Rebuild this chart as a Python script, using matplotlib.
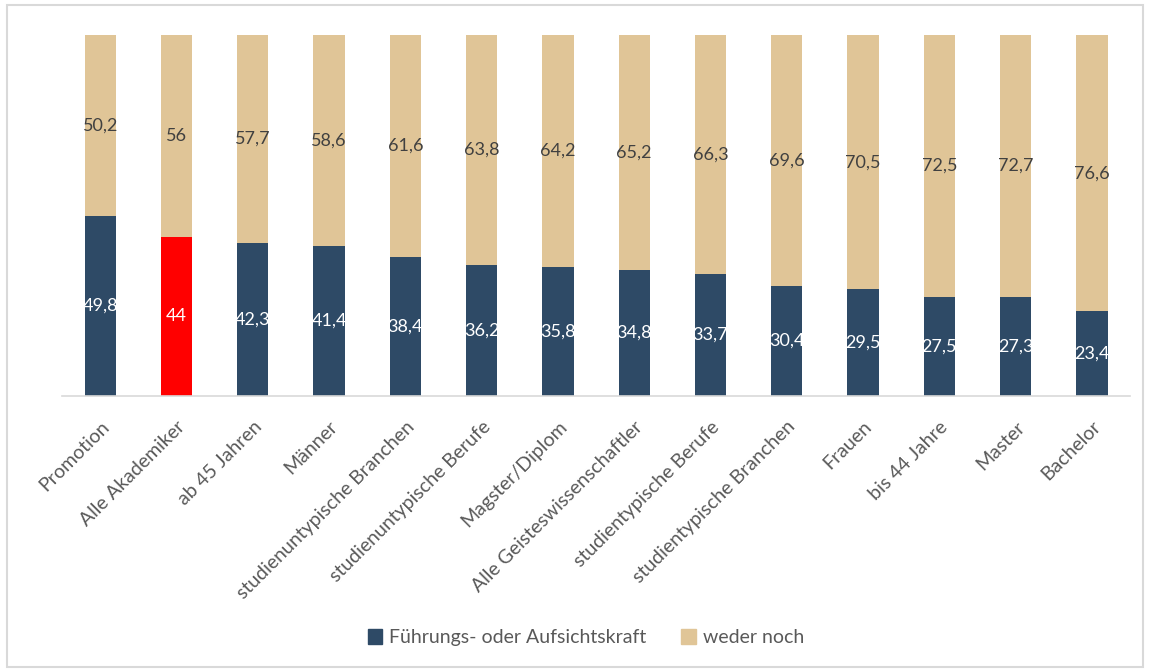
import matplotlib.pyplot as plt
import matplotlib.patches as mpatches
import numpy as np

plt.rcParams['font.family'] = ['Lato', 'DejaVu Sans']

categories = ["Promotion", "Alle Akademiker", "ab 45 Jahren", "Männer",
              "studienuntypische Branchen", "studienuntypische Berufe",
              "Magster/Diplom", "Alle Geisteswissenschaftler",
              "studientypische Berufe", "studientypische Branchen",
              "Frauen", "bis 44 Jahre", "Master", "Bachelor"]
fuehrung = [49.8, 44, 42.3, 41.4, 38.4, 36.2, 35.8, 34.8, 33.7, 30.4, 29.5, 27.5, 27.3, 23.4]
weder = [50.2, 56, 57.7, 58.6, 61.6, 63.8, 64.2, 65.2, 66.3, 69.6, 70.5, 72.5, 72.7, 76.6]
fuehrung_labels = ["49,8", "44", "42,3", "41,4", "38,4", "36,2", "35,8", "34,8",
                   "33,7", "30,4", "29,5", "27,5", "27,3", "23,4"]
weder_labels = ["50,2", "56", "57,7", "58,6", "61,6", "63,8", "64,2", "65,2",
                "66,3", "69,6", "70,5", "72,5", "72,7", "76,6"]

navy = "#2e4a66"
beige = "#e0c597"
highlight = "#ff0000"

fig = plt.figure(figsize=(11.49, 6.72), dpi=100)
ax = fig.add_axes([0.054, 0.411, 0.9295, 0.537])

x = np.arange(len(categories))
colors = [highlight if c == "Alle Akademiker" else navy for c in categories]
ax.bar(x, fuehrung, width=0.41, color=colors, label="Führungs- oder Aufsichtskraft")
ax.bar(x, weder, width=0.41, bottom=fuehrung, color=beige, label="weder noch")

for i in range(len(x)):
    ax.text(x[i], fuehrung[i] / 2, fuehrung_labels[i], ha="center", va="center",
            color="white", fontsize=13)
    ax.text(x[i], fuehrung[i] + weder[i] / 2, weder_labels[i], ha="center", va="center",
            color="#404040", fontsize=13)

ax.set_xlim(-0.5, len(x) - 0.5)
ax.set_ylim(0, 100)
ax.set_yticks([])
for s in ["top", "right", "left"]:
    ax.spines[s].set_visible(False)
ax.spines["bottom"].set_color("#d9d9d9")
ax.spines["bottom"].set_linewidth(1.2)

ax.set_xticks(x)
ax.set_xticklabels(categories, rotation=45, ha="right", rotation_mode="anchor",
                   fontsize=14, color="#595959")
ax.tick_params(axis="x", length=0, pad=16)

handles = [mpatches.Patch(color=navy), mpatches.Patch(color=beige)]
fig.legend(handles, ["Führungs- oder Aufsichtskraft", "weder noch"], loc="center",
           bbox_to_anchor=(0.51, 0.051), ncol=2, frameon=False, fontsize=14,
           handlelength=0.75, handleheight=0.75, handletextpad=0.35, columnspacing=1.8,
           labelcolor="#595959")

fig.patches.append(mpatches.Rectangle((0.006, 0.008), 0.989, 0.984, transform=fig.transFigure,
                                      fill=False, edgecolor="#d9d9d9", linewidth=1.5))

fig.savefig("out.png", dpi=100)
